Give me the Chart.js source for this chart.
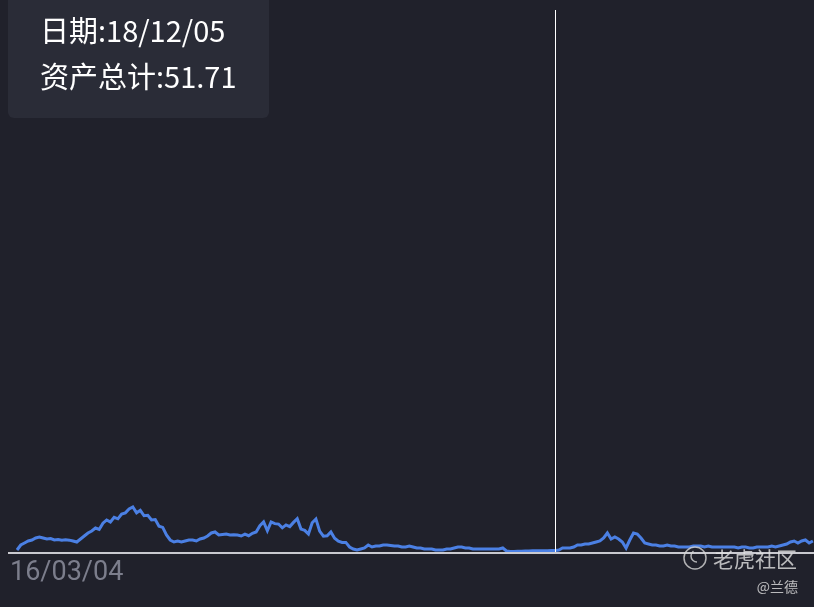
<!DOCTYPE html>
<html>
<head>
<meta charset="utf-8">
<script src="https://cdn.jsdelivr.net/npm/chart.js@4.4.1/dist/chart.umd.min.js"></script>
<style>
  html, body { margin: 0; padding: 0; background: #20212b; }
  #wrap { width: 814px; height: 607px; position: relative; }
</style>
</head>
<body>
<div id="wrap"><canvas id="chart" width="814" height="607"></canvas></div>
<script>
// weekly asset totals, 16/03/04 onward
const START_DATE = '2016-03-04';
const HOVER_INDEX = 144;
const HOVER_DATE = '18/12/05';
const TITLE_DATE = '日期';
const TITLE_VALUE = '资产总计';

const values = [
  52.4, 58.4, 60.8, 63.2, 64.4, 66.8, 68.0, 66.8, 65.6, 66.2,
  64.4, 65.0, 64.0, 64.6, 64.2, 63.2, 62.0, 65.6, 69.2, 72.8,
  75.2, 78.8, 77.0, 84.5, 88.4, 86.0, 91.5, 89.8, 95.6, 97.0,
  101.5, 104.0, 97.0, 100.0, 93.5, 94.0, 88.5, 89.0, 81.0, 79.5,
  70.4, 64.4, 62.0, 63.2, 62.0, 63.2, 64.4, 64.4, 63.2, 65.6,
  66.8, 69.2, 72.8, 74.0, 70.4, 71.0, 71.6, 70.4, 70.8, 70.4,
  69.2, 71.5, 69.5, 72.5, 74.0, 81.5, 86.0, 75.5, 86.0, 84.0,
  83.5, 79.0, 82.5, 80.5, 85.5, 90.0, 77.5, 76.0, 71.5, 85.0,
  89.5, 75.0, 69.0, 69.5, 74.0, 66.5, 63.0, 61.5, 61.5, 56.0,
  53.6, 52.4, 53.6, 54.8, 58.4, 56.0, 57.2, 57.2, 58.4, 58.4,
  57.8, 57.2, 57.2, 56.0, 56.0, 57.2, 56.0, 54.8, 54.8, 53.6,
  53.6, 53.6, 52.4, 52.4, 52.4, 53.6, 53.6, 54.8, 56.0, 56.0,
  54.8, 54.8, 53.6, 53.6, 53.6, 53.6, 53.6, 53.6, 53.6, 53.6,
  54.8, 51.2, 50.6, 50.6, 50.8, 51.0, 51.2, 51.3, 51.4, 51.5,
  51.5, 51.6, 51.6, 51.7, 51.71, 52.4, 54.8, 54.8, 54.8, 56.0,
  58.4, 58.4, 59.6, 59.6, 60.8, 62.0, 63.2, 66.8, 72.8, 65.6,
  68.0, 65.6, 62.0, 54.8, 64.4, 72.8, 71.6, 66.8, 60.8, 59.6,
  58.4, 58.4, 57.2, 57.2, 58.4, 57.2, 57.2, 56.0, 56.0, 56.0,
  56.0, 57.2, 57.2, 57.2, 56.0, 57.2, 56.0, 56.0, 56.0, 56.0,
  56.0, 56.0, 56.0, 54.8, 56.0, 56.0, 54.8, 54.8, 56.0, 56.0,
  56.0, 56.0, 57.2, 56.0, 57.2, 58.4, 59.6, 62.0, 63.2, 60.8,
  63.2, 64.4, 60.8, 63.2
];

// date labels: 1006 days span up to the hovered point
const dates = values.map((_, i) => {
  const d = new Date(START_DATE + 'T00:00:00Z');
  d.setUTCDate(d.getUTCDate() + Math.round(i * 1006 / HOVER_INDEX));
  const p = (n) => String(n).padStart(2, '0');
  return p(d.getUTCFullYear() % 100) + '/' + p(d.getUTCMonth() + 1) + '/' + p(d.getUTCDate());
});
dates[HOVER_INDEX] = HOVER_DATE;

const BG = '#20212b';
const LINE = '#4b80e4';

const overlay = {
  id: 'overlay',
  beforeDraw(chart) {
    const { ctx } = chart;
    ctx.save();
    ctx.fillStyle = BG;
    ctx.fillRect(0, 0, chart.width, chart.height);
    ctx.restore();
  },
  afterDatasetsDraw(chart) {
    const { ctx, chartArea } = chart;
    const xs = chart.scales.x;
    const bottom = chartArea.bottom;

    ctx.save();
    // baseline
    ctx.strokeStyle = '#c9c9cf';
    ctx.lineWidth = 2;
    ctx.beginPath();
    ctx.moveTo(8, bottom + 1);
    ctx.lineTo(chart.width, bottom + 1);
    ctx.stroke();

    // hover crosshair
    const hx = Math.round(xs.getPixelForValue(HOVER_INDEX)) + 0.5;
    ctx.strokeStyle = '#ffffff';
    ctx.lineWidth = 1;
    ctx.beginPath();
    ctx.moveTo(hx, chartArea.top);
    ctx.lineTo(hx, bottom);
    ctx.stroke();

    // first date label
    ctx.fillStyle = '#7c7e8c';
    ctx.font = '27px "Roboto", "DejaVu Sans", sans-serif';
    ctx.textBaseline = 'middle';
    ctx.textAlign = 'left';
    ctx.fillText(dates[0], 10, 573);

    // tooltip box
    ctx.fillStyle = '#2a2c37';
    ctx.beginPath();
    ctx.roundRect(8, -10, 261, 128, 6);
    ctx.fill();
    ctx.fillStyle = '#ffffff';
    ctx.font = '29px "Noto Sans CJK SC", sans-serif';
    ctx.fillText(TITLE_DATE + ':' + dates[HOVER_INDEX], 40, 31);
    ctx.fillText(TITLE_VALUE + ':' + values[HOVER_INDEX].toFixed(2), 40, 77);

    // watermark
    ctx.globalAlpha = 0.8;
    ctx.strokeStyle = '#d6d6d6';
    ctx.lineWidth = 1.5;
    ctx.beginPath();
    ctx.arc(695, 558, 11, 0, Math.PI * 2);
    ctx.stroke();
    ctx.beginPath();
    ctx.arc(697, 556, 6, Math.PI * 0.5, Math.PI * 1.3);
    ctx.stroke();
    ctx.fillStyle = '#e2e2e2';
    ctx.font = '21px "Noto Sans CJK SC", sans-serif';
    ctx.fillText('老虎社区', 713, 559);
    ctx.font = '14px "Noto Sans CJK SC", sans-serif';
    ctx.textAlign = 'right';
    ctx.fillText('@兰德', 798, 587);
    ctx.restore();
  }
};

new Chart(document.getElementById('chart'), {
  type: 'line',
  data: {
    datasets: [{
      data: values.map((v, i) => ({ x: i, y: v })),
      borderColor: LINE,
      borderWidth: 3,
      pointRadius: 0,
      tension: 0,
      fill: false
    }]
  },
  options: {
    responsive: false,
    animation: false,
    events: [],
    layout: { padding: { left: 8, right: 0, top: 10, bottom: 55 } },
    plugins: { legend: { display: false }, tooltip: { enabled: false } },
    scales: {
      x: { type: 'linear', display: false, min: -2.41, max: 213.3 },
      y: { display: false, min: 50, max: 700 }
    }
  },
  plugins: [overlay]
});
</script>
</body>
</html>
